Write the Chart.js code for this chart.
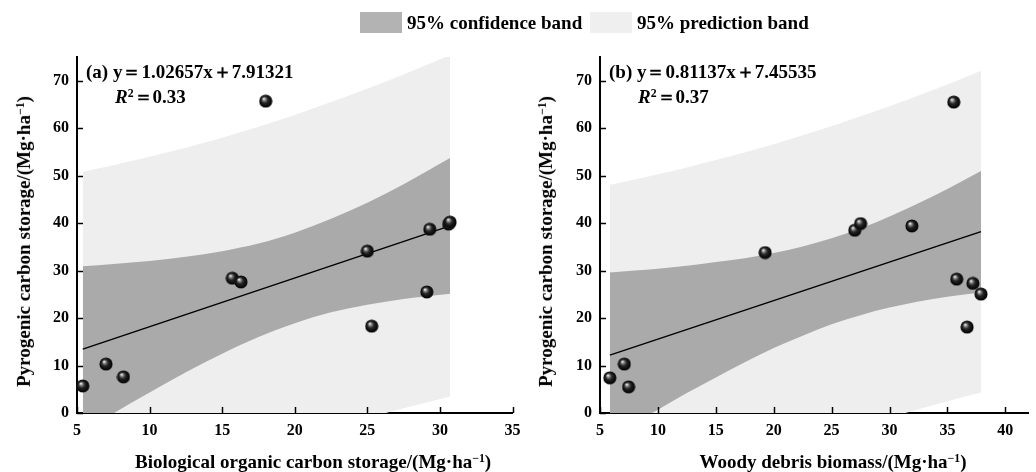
<!DOCTYPE html>
<html>
<head>
<meta charset="utf-8">
<script src="https://cdn.jsdelivr.net/npm/chart.js@4.4.0/dist/chart.umd.min.js"></script>
<style>
  html, body { margin: 0; padding: 0; background: #ffffff; }
  #wrap { position: relative; width: 1036px; height: 472px; overflow: hidden; font-family: "Liberation Serif", "Times New Roman", serif; font-weight: bold; color: #000; }
  .cv { position: absolute; top: 0; }
  .txt { position: absolute; white-space: nowrap; font-weight: bold; line-height: 1; }
  .sw { position: absolute; width: 42px; height: 21px; }
  sup { font-size: 0.62em; vertical-align: 0.55em; line-height: 0; }
  .ytitle { transform-origin: center center; }
</style>
</head>
<body>
<div id="wrap">
  <canvas id="cA" class="cv" width="520" height="472" style="left:0px"></canvas>
  <canvas id="cB" class="cv" width="516" height="472" style="left:520px"></canvas>

  <div class="sw" style="left:360px; top:12px; background:#b3b3b3"></div>
  <div class="txt" style="left:407px; top:13px; font-size:19px">95% confidence band</div>
  <div class="sw" style="left:590px; top:12px; background:#efefef"></div>
  <div class="txt" style="left:637px; top:13px; font-size:19px">95% prediction band</div>

  <div class="txt" style="left:86px; top:62px; font-size:19px">(a) y＝1.02657x＋7.91321</div>
  <div class="txt" style="left:115px; top:87px; font-size:19px"><i>R</i><sup>2</sup>＝0.33</div>
  <div class="txt" style="left:609px; top:62px; font-size:19px">(b) y＝0.81137x＋7.45535</div>
  <div class="txt" style="left:638px; top:87px; font-size:19px"><i>R</i><sup>2</sup>＝0.37</div>

  <div class="txt" id="xtA" style="top:452px; font-size:19px">Biological organic carbon storage/(Mg·ha<sup>−1</sup>)</div>
  <div class="txt" id="xtB" style="top:452px; font-size:19px">Woody debris biomass/(Mg·ha<sup>−1</sup>)</div>
  <div class="txt ytitle" id="ytA" style="font-size:19px">Pyrogenic carbon storage/(Mg·ha<sup>−1</sup>)</div>
  <div class="txt ytitle" id="ytB" style="font-size:19px">Pyrogenic carbon storage/(Mg·ha<sup>−1</sup>)</div>
</div>

<script>
// ---------- DATA ----------
// Panel (a): Biological organic carbon storage vs pyrogenic carbon storage
const xA = [5.4, 7.0, 8.2, 15.7, 16.3, 18.0, 25.0, 25.3, 29.1, 29.3, 30.6, 30.7];
const yA = [5.7, 10.3, 7.6, 28.4, 27.6, 65.7, 34.1, 18.3, 25.5, 38.7, 39.8, 40.2];
const fitXA = [5.4, 30.7];
const fitYA = [13.46, 39.43];
const bandXA  = [5.4, 7.5, 10, 12.5, 15, 17.5, 20, 22.5, 25, 27.5, 30.7];
const confUpA = [30.9, 31.4, 32.0, 32.9, 34.1, 35.7, 38.0, 40.9, 44.3, 48.2, 53.7];
const confLoA = [-4.0, -0.1, 4.3, 8.6, 12.5, 16.0, 18.9, 21.2, 22.8, 24.0, 25.1];
const predUpA = [50.8, 52.2, 54.0, 55.9, 58.0, 60.3, 62.8, 65.5, 68.3, 71.3, 75.4];
const predLoA = [-23.9, -21.0, -17.6, -14.4, -11.4, -8.6, -5.9, -3.4, -1.1, 1.0, 3.5];

// Panel (b): Woody debris biomass vs pyrogenic carbon storage
const xB = [5.85, 7.1, 7.47, 19.26, 27.0, 27.5, 31.93, 35.55, 35.8, 36.7, 37.2, 37.9];
const yB = [7.4, 10.3, 5.5, 33.8, 38.5, 39.9, 39.4, 65.5, 28.2, 18.1, 27.3, 25.05];
const fitXB = [5.85, 37.9];
const fitYB = [12.20, 38.21];
const bandXB  = [5.85, 8, 10, 12.5, 15, 17.5, 20, 22.5, 25, 27.5, 30, 32.5, 35, 37.9];
const confUpB = [29.6, 30.0, 30.4, 31.0, 31.8, 32.6, 33.7, 35.1, 36.8, 38.9, 41.4, 44.2, 47.2, 51.0];
const confLoB = [-5.2, -2.1, 0.7, 4.2, 7.5, 10.7, 13.7, 16.3, 18.7, 20.6, 22.2, 23.5, 24.5, 25.4];
const predUpB = [48.1, 49.2, 50.3, 51.7, 53.3, 54.9, 56.6, 58.5, 60.4, 62.5, 64.6, 66.9, 69.2, 72.1];
const predLoB = [-23.7, -21.3, -19.2, -16.5, -14.0, -11.6, -9.3, -7.0, -4.9, -2.9, -1.0, 0.8, 2.5, 4.3];

// Tick labels
const yTicks  = [0, 10, 20, 30, 40, 50, 60, 70];
const xTicksA = [5, 10, 15, 20, 25, 30, 35];
const xTicksB = [5, 10, 15, 20, 25, 30, 35, 40];

// ---------- helpers ----------
const zip = (xs, ys) => xs.map((x, i) => ({ x: x, y: ys[i] }));

function makeSphere() {
  const c = document.createElement('canvas');
  c.width = 14; c.height = 14;
  const g = c.getContext('2d');
  const grad = g.createRadialGradient(5, 4.5, 0.3, 7, 7, 7);
  grad.addColorStop(0.0, '#f4f4f4');
  grad.addColorStop(0.18, '#8a8a8a');
  grad.addColorStop(0.45, '#262626');
  grad.addColorStop(0.85, '#050505');
  grad.addColorStop(1.0, '#3a3a3a');
  g.fillStyle = grad;
  g.beginPath(); g.arc(7, 7, 6.6, 0, Math.PI * 2); g.fill();
  return c;
}
const sphere = makeSphere();

const tickMarks = {
  id: 'tickMarks',
  afterDraw(chart) {
    const { ctx, chartArea } = chart;
    const xs = chart.scales.x, ys = chart.scales.y;
    ctx.save();
    ctx.strokeStyle = '#000';
    ctx.lineWidth = 1.5;
    xs.ticks.forEach(t => {
      const px = Math.round(xs.getPixelForValue(t.value)) + 0.5;
      ctx.beginPath(); ctx.moveTo(px, chartArea.bottom); ctx.lineTo(px, chartArea.bottom - 6); ctx.stroke();
    });
    ys.ticks.forEach(t => {
      const py = Math.round(ys.getPixelForValue(t.value)) + 0.5;
      ctx.beginPath(); ctx.moveTo(chartArea.left, py); ctx.lineTo(chartArea.left + 6, py); ctx.stroke();
    });
    ctx.restore();
  }
};

const tickFont = { family: '"Liberation Serif", "Times New Roman", serif', weight: 'bold', size: 16 };

function buildChart(canvasId, pts, fit, conf, pred, xMin, xMax, xTicks, yAxisWidth, padRight) {
  return new Chart(document.getElementById(canvasId), {
    type: 'scatter',
    data: {
      datasets: [
        { label: 'points', data: pts, pointStyle: sphere, pointRadius: 6.5, showLine: false, clip: false },
        { label: 'fit', type: 'line', data: fit, borderColor: '#000', borderWidth: 1.5, pointRadius: 0, fill: false, tension: 0 },
        { label: 'confUp', type: 'line', data: conf[0], borderWidth: 0, pointRadius: 0, backgroundColor: '#aaaaaa', fill: '+1', tension: 0.4, cubicInterpolationMode: 'monotone' },
        { label: 'confLo', type: 'line', data: conf[1], borderWidth: 0, pointRadius: 0, fill: false, tension: 0.4, cubicInterpolationMode: 'monotone' },
        { label: 'predUp', type: 'line', data: pred[0], borderWidth: 0, pointRadius: 0, backgroundColor: '#eeeeee', fill: '+1', tension: 0.4, cubicInterpolationMode: 'monotone' },
        { label: 'predLo', type: 'line', data: pred[1], borderWidth: 0, pointRadius: 0, fill: false, tension: 0.4, cubicInterpolationMode: 'monotone' }
      ]
    },
    options: {
      responsive: false,
      animation: false,
      devicePixelRatio: 1,
      layout: { padding: { top: 57, right: padRight, left: 0, bottom: 0 } },
      plugins: { legend: { display: false }, tooltip: { enabled: false }, title: { display: false } },
      scales: {
        x: {
          type: 'linear', min: xMin, max: xMax, z: 1,
          grid: { display: false, drawTicks: false },
          border: { display: true, color: '#000', width: 2 },
          ticks: { stepSize: 5, includeBounds: false, autoSkip: false, maxRotation: 0, padding: 8, color: '#000', font: tickFont },
          afterBuildTicks: s => { s.ticks = xTicks.map(v => ({ value: v })); },
          afterFit: s => { s.height = 59; s.paddingLeft = 0; s.paddingRight = 0; }
        },
        y: {
          type: 'linear', min: 0, max: 75, z: 1,
          grid: { display: false, drawTicks: false },
          border: { display: true, color: '#000', width: 2 },
          ticks: { stepSize: 10, includeBounds: false, autoSkip: false, padding: 8, color: '#000', font: tickFont },
          afterBuildTicks: s => { s.ticks = yTicks.map(v => ({ value: v })); },
          afterFit: s => { s.width = yAxisWidth; s.paddingTop = 0; s.paddingBottom = 0; }
        }
      }
    },
    plugins: [tickMarks]
  });
}

buildChart('cA', zip(xA, yA), zip(fitXA, fitYA),
  [zip(bandXA, confUpA), zip(bandXA, confLoA)], [zip(bandXA, predUpA), zip(bandXA, predLoA)],
  5, 35, xTicksA, 77, 3);
buildChart('cB', zip(xB, yB), zip(fitXB, fitYB),
  [zip(bandXB, confUpB), zip(bandXB, confLoB)], [zip(bandXB, predUpB), zip(bandXB, predLoB)],
  5, 42, xTicksB, 80, 0);

// Position axis titles (HTML text) by their centres
function centre(id, cx, cy, rotate) {
  const el = document.getElementById(id);
  const w = el.offsetWidth, h = el.offsetHeight;
  el.style.left = (cx - w / 2) + 'px';
  el.style.top = (cy - h / 2) + 'px';
  if (rotate) el.style.transform = 'rotate(-90deg)';
}
centre('xtA', 313, 461, false);
centre('xtB', 833, 461, false);
centre('ytA', 23, 241, true);
centre('ytB', 545, 241, true);
</script>
</body>
</html>
